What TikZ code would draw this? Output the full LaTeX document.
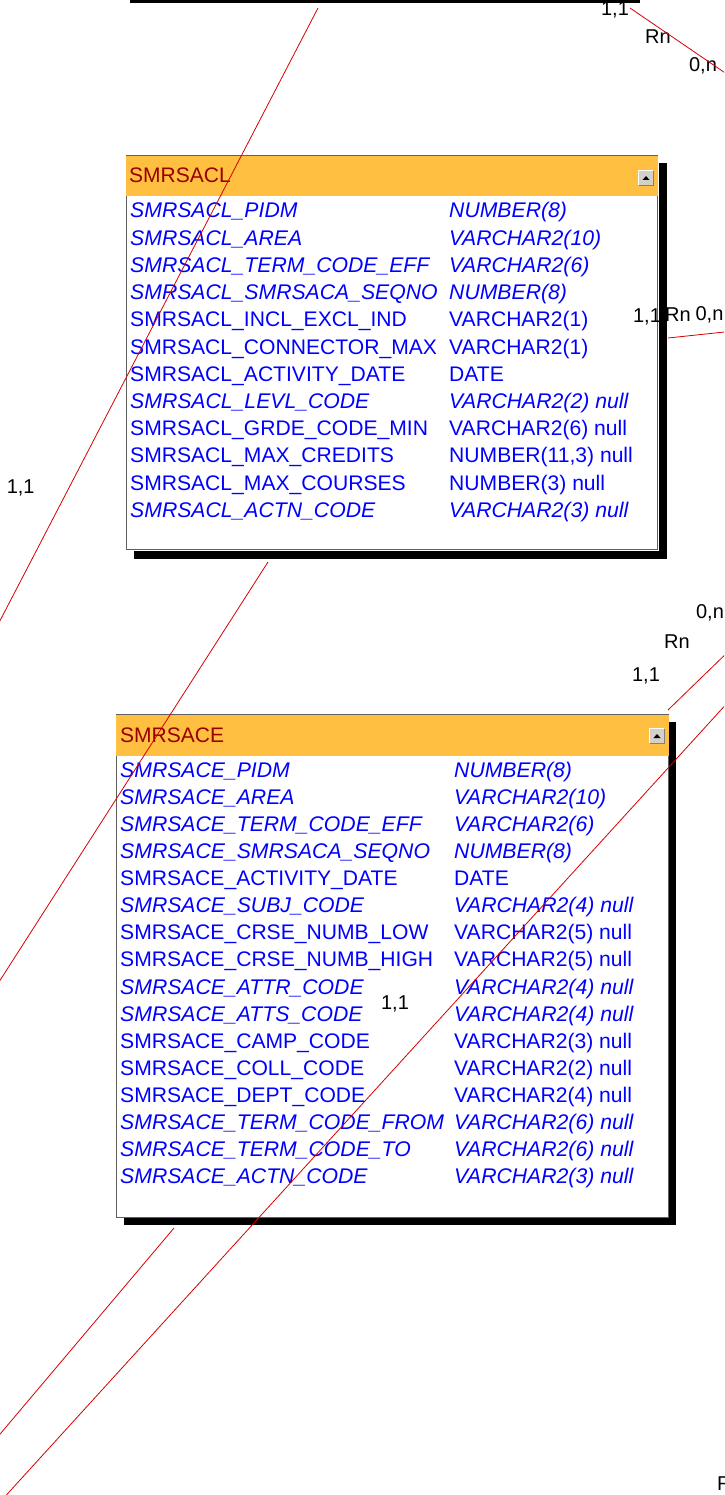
\documentclass[tikz,border=0pt]{standalone}
\usepackage{fontspec}
\setmainfont{Liberation Sans}
\definecolor{hdr}{RGB}{255,191,64}
\definecolor{ttl}{RGB}{153,0,0}
\definecolor{fld}{RGB}{0,0,255}
\definecolor{rel}{RGB}{215,0,0}
\definecolor{bord}{RGB}{96,96,96}
\definecolor{btn}{RGB}{212,208,200}
\tikzset{
  fieldtxt/.style={anchor=base west, inner sep=0pt, text=fld, font=\fontsize{21.1}{25}\selectfont},
  keytxt/.style={fieldtxt, font=\fontsize{21.2}{25}\selectfont\itshape},
  ttltxt/.style={anchor=base west, inner sep=0pt, text=ttl, font=\fontsize{21}{25}\selectfont},
  lbl/.style={anchor=base, inner sep=0pt, text=black, font=\fontsize{20}{24}\selectfont},
  tbl/.style={draw=bord, line width=1pt, fill=white, anchor=north west, inner sep=0pt},
  shadowfill/.style={fill=black},
  btnbox/.style={fill=btn, draw=none, minimum size=14pt, inner sep=0pt},
  relline/.style={draw=rel, line width=0.8pt},
}
\begin{document}
\begin{tikzpicture}[x=1pt,y=-1pt]
\useasboundingbox (0,0) rectangle (724,1495);
\clip (0,0) rectangle (724,1495);
\fill[white] (0,0) rectangle (724,1495);

% shadow of a table above the view
\fill[black] (130,-5) rectangle (640,3.5);

% cardinality labels
\node[lbl] (c1) at (615,16) {1,1};
\node[lbl] (r1) at (658,44) {Rn};
\node[lbl] (n1) at (703,72) {0,n};
\node[lbl] (r2) at (678,322) {Rn};
\node[lbl] (n2) at (709.5,320) {0,n};
\node[lbl] (c3) at (20.7,493) {1,1};
\node[lbl] (n3) at (710,618) {0,n};
\node[lbl] (r3) at (677,648) {Rn};
\node[lbl] (c4) at (646,681) {1,1};
\node[lbl, anchor=base west] (r4) at (717,1490) {Rn};

% ---------- SMRSACL ----------
\node[tbl, minimum width=531.5pt, minimum height=393.5pt] (acl) at (125.5,155.5) {};
\fill[hdr] ([shift={(0.5,0.5)}]acl.north west) rectangle ([shift={(-0.5,41)}]acl.north east);
\node[ttltxt] (acl-title) at (129,183) {SMRSACL};
\node[btnbox] (acl-btn) at (646,178) {};
\draw[white, line width=1pt] (acl-btn.south west) -- (acl-btn.north west) -- (acl-btn.north east);
\draw[gray, line width=1pt] (acl-btn.north east) -- (acl-btn.south east) -- (acl-btn.south west);
\fill[black] ([shift={(-3.5,2)}]acl-btn.center) -- ([shift={(3.5,2)}]acl-btn.center) -- ([shift={(0,-2)}]acl-btn.center) -- cycle;
\node[lbl] (c2) at (647,323) {1,1};
% visible part of the drop shadow
\fill[shadowfill] ([shift={(0.5,8)}]acl.north east) rectangle ([shift={(8.5,8.5)}]acl.south east);
\fill[shadowfill] ([shift={(8,0.5)}]acl.south west) rectangle ([shift={(8.5,8.5)}]acl.south east);
\foreach \n/\t/\k [count=\i from 0] in {
  SMRSACL\_PIDM/NUMBER(8)/1,
  SMRSACL\_AREA/VARCHAR2(10)/1,
  SMRSACL\_TERM\_CODE\_EFF/VARCHAR2(6)/1,
  SMRSACL\_SMRSACA\_SEQNO/NUMBER(8)/1,
  SMRSACL\_INCL\_EXCL\_IND/VARCHAR2(1)/0,
  SMRSACL\_CONNECTOR\_MAX/VARCHAR2(1)/0,
  SMRSACL\_ACTIVITY\_DATE/DATE/0,
  SMRSACL\_LEVL\_CODE/VARCHAR2(2) null/1,
  SMRSACL\_GRDE\_CODE\_MIN/VARCHAR2(6) null/0,
  SMRSACL\_MAX\_CREDITS/{NUMBER(11,3) null}/0,
  SMRSACL\_MAX\_COURSES/NUMBER(3) null/0,
  SMRSACL\_ACTN\_CODE/VARCHAR2(3) null/1}{
  \ifnum\k=1
    \node[keytxt] (acl-n\i) at (130,218+27.2*\i) {\n};
    \node[keytxt] (acl-t\i) at (449,218+27.2*\i) {\t};
  \else
    \node[fieldtxt] (acl-n\i) at (130,218+27.2*\i) {\n};
    \node[fieldtxt] (acl-t\i) at (449,218+27.2*\i) {\t};
  \fi
}

% ---------- SMRSACE ----------
\fill[shadowfill] (123.5,722) rectangle (675.5,1225);
\node[tbl, minimum width=552.5pt, minimum height=502.5pt] (ace) at (115.5,714) {};
\fill[hdr] ([shift={(0.5,0.5)}]ace.north west) rectangle ([shift={(-0.5,41.5)}]ace.north east);
\node[ttltxt] (ace-title) at (120,742.5) {SMRSACE};
\node[btnbox] (ace-btn) at (657,736) {};
\draw[white, line width=1pt] (ace-btn.south west) -- (ace-btn.north west) -- (ace-btn.north east);
\draw[gray, line width=1pt] (ace-btn.north east) -- (ace-btn.south east) -- (ace-btn.south west);
\fill[black] ([shift={(-3.5,2)}]ace-btn.center) -- ([shift={(3.5,2)}]ace-btn.center) -- ([shift={(0,-2)}]ace-btn.center) -- cycle;
\foreach \n/\t/\k [count=\i from 0] in {
  SMRSACE\_PIDM/NUMBER(8)/1,
  SMRSACE\_AREA/VARCHAR2(10)/1,
  SMRSACE\_TERM\_CODE\_EFF/VARCHAR2(6)/1,
  SMRSACE\_SMRSACA\_SEQNO/NUMBER(8)/1,
  SMRSACE\_ACTIVITY\_DATE/DATE/0,
  SMRSACE\_SUBJ\_CODE/VARCHAR2(4) null/1,
  SMRSACE\_CRSE\_NUMB\_LOW/VARCHAR2(5) null/0,
  SMRSACE\_CRSE\_NUMB\_HIGH/VARCHAR2(5) null/0,
  SMRSACE\_ATTR\_CODE/VARCHAR2(4) null/1,
  SMRSACE\_ATTS\_CODE/VARCHAR2(4) null/1,
  SMRSACE\_CAMP\_CODE/VARCHAR2(3) null/0,
  SMRSACE\_COLL\_CODE/VARCHAR2(2) null/0,
  SMRSACE\_DEPT\_CODE/VARCHAR2(4) null/0,
  SMRSACE\_TERM\_CODE\_FROM/VARCHAR2(6) null/1,
  SMRSACE\_TERM\_CODE\_TO/VARCHAR2(6) null/1,
  SMRSACE\_ACTN\_CODE/VARCHAR2(3) null/1}{
  \ifnum\k=1
    \node[keytxt] (ace-n\i) at (120,777+27.13*\i) {\n};
    \node[keytxt] (ace-t\i) at (454,777+27.13*\i) {\t};
  \else
    \node[fieldtxt] (ace-n\i) at (120,777+27.13*\i) {\n};
    \node[fieldtxt] (ace-t\i) at (454,777+27.13*\i) {\t};
  \fi
}
\node[lbl] (c5) at (395,1009) {1,1};

% ---------- relationship lines ----------
\coordinate (a1) at (318,8);    \coordinate (b1) at (-10,640);
\coordinate (a2) at (268,562);  \coordinate (b2) at (-10,996);
\coordinate (a3) at (668,710);  \coordinate (b3) at (734,646);
\coordinate (a4) at (760,667);  \coordinate (b4) at (-10,1513);
\coordinate (a5) at (174,1228); \coordinate (b5) at (-10,1446);
\coordinate (a6) at (668,338);  \coordinate (b6) at (734,331);
\coordinate (a7) at (630,8);    \coordinate (b7) at (734,79);
\draw[relline] (a1) -- (b1);
\draw[relline] (a2) -- (b2);
\draw[relline] (a3) -- (b3);
\draw[relline] (a4) -- (b4);
\draw[relline] (a5) -- (b5);
\draw[relline] (a6) -- (b6);
\draw[relline] (a7) -- (b7);
\end{tikzpicture}
\end{document}
